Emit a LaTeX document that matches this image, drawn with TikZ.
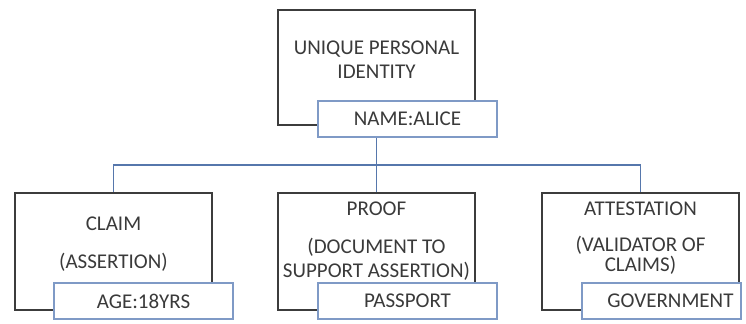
\documentclass[tikz,border=0pt]{standalone}
\usepackage{fontspec}
\setmainfont{Carlito}
\definecolor{boxline}{HTML}{3C3C3C}
\definecolor{tagline}{HTML}{7F9AC6}
\definecolor{busline}{HTML}{5677AC}
\definecolor{ink}{HTML}{3A3A3A}

\begin{document}
\begin{tikzpicture}[x=0.5pt,y=-0.5pt,
  every node/.style={font=\fontsize{10.5}{12}\selectfont},
  box/.style={draw=boxline,line width=0.9pt,minimum width=98.5pt,minimum height=58.5pt,inner sep=0pt},
  tag/.style={draw=tagline,line width=0.7pt,fill=white,minimum width=89.5pt,minimum height=18pt,inner sep=0pt,text=ink},
  txt/.style={align=center,text=ink,inner sep=0pt},
  bus/.style={draw=busline,line width=0.7pt}]
\useasboundingbox (0,0) rectangle (746,323);

\node[box,minimum height=57.5pt] (upi) at (376.5,67.5) {};
\node[txt] (upitxt) at (376.5,60) {UNIQUE PERSONAL\\IDENTITY};

\node[box] (claim) at (113.5,251.5) {};
\node[txt] (claimtxt) at (113.5,244) {CLAIM\\[7pt](ASSERTION)};

\node[box] (proof) at (376.5,251.5) {};
\node[txt] (prooftxt) at (376.5,241.5) {PROOF\\[7pt](DOCUMENT TO\\SUPPORT ASSERTION)};

\node[box] (attest) at (640.5,251.5) {};
\node[txt] (attesttxt) at (640.5,238.5) {ATTESTATION\\[6pt](VALIDATOR OF\\[-2pt]CLAIMS)};

\coordinate (bus) at (376.5,165);
\draw[bus] (upi.south) -- (bus);
\draw[bus] (bus) -| (claim.north);
\draw[bus] (bus) -- (proof.north);
\draw[bus] (bus) -| (attest.north);

\def\tags{name/407.5/119/{NAME:ALICE},age/143.5/301/{AGE:18YRS},passport/407.5/301/{PASSPORT}}
\foreach \n/\x/\y/\t in \tags
  \node[tag] (\n) at (\x,\y) {\t};
\node[tag,minimum width=79.5pt] (govt) at (661.5,301) {\hspace*{9pt}GOVERNMENT};
\end{tikzpicture}
\end{document}
